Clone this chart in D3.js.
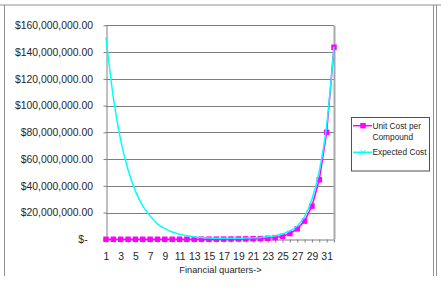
<!DOCTYPE html>
<html>
<head>
<meta charset="utf-8">
<script src="https://cdn.jsdelivr.net/npm/d3@7"></script>
<style>
    body { margin: 0; background: #fff; }
    svg { display: block; font-family: "Liberation Sans", Arial, sans-serif; }
</style>
</head>
<body>
<svg width="441" height="288"></svg>
<script>
// quarters 1..32
const quarters = d3.range(1, 33);

// values in millions of $
const unitCost = [0.01, 0.01, 0.01, 0.01, 0.01, 0.01, 0.01, 0.02, 0.02, 0.03, 0.04, 0.05,
                  0.06, 0.08, 0.1, 0.12, 0.15, 0.2, 0.25, 0.3, 0.4, 0.55, 0.75, 1.25,
                  2.2, 4.3, 7.8, 13.6, 24.8, 44.5, 80, 143.6];
const expectedCost = [151, 106, 74, 52, 36, 25, 17.5, 11.5, 8, 5.5, 3.8, 2.6,
                      1.8, 1.3, 1.0, 0.8, 0.75, 0.75, 0.8, 0.9, 1.1, 1.4, 1.9, 2.6,
                      3.9, 6.2, 10, 17, 30, 51, 85, 144];

const yTicks = [0, 20e6, 40e6, 60e6, 80e6, 100e6, 120e6, 140e6, 160e6];
const seriesNames = ["Unit Cost per\nCompound", "Expected Cost"];
const xTitle = "Financial quarters->";

const MAGENTA = "#ff00ff";
const CYAN = "#00ffff";
const GRID = "#808080";
const TEXT = "#262626";

const svg = d3.select("svg");

// frame of the sheet cut-out
svg.append("line").attr("x1", 0).attr("x2", 441).attr("y1", 5).attr("y2", 5)
    .attr("stroke", "#c8c8c8").attr("stroke-width", 2);
svg.append("line").attr("x1", 4.5).attr("x2", 4.5).attr("y1", 5).attr("y2", 276)
    .attr("stroke", "#909090");
[433.5, 436.5].forEach(x => {
    svg.append("line").attr("x1", x).attr("x2", x).attr("y1", 5).attr("y2", 276)
        .attr("stroke", "#909090");
});

const plot = {left: 106, right: 334, top: 25.3, bottom: 239.3};

const x = d3.scalePoint()
    .domain(quarters)
    .range([plot.left, plot.right]);

const y = d3.scaleLinear()
    .domain([0, 160e6])
    .range([plot.bottom, plot.top]);

// gridlines
svg.append("g")
    .selectAll("line")
    .data(yTicks.filter(d => d > 0))
    .join("line")
        .attr("x1", plot.left)
        .attr("x2", plot.right)
        .attr("y1", d => Math.round(y(d)) + 0.5)
        .attr("y2", d => Math.round(y(d)) + 0.5)
        .attr("stroke", GRID)
        .attr("stroke-width", 1);

// plot area right border
svg.append("line")
    .attr("x1", plot.right + 0.5).attr("x2", plot.right + 0.5)
    .attr("y1", Math.round(y(160e6)) + 0.5).attr("y2", plot.bottom)
    .attr("stroke", "#a8a8a8").attr("stroke-width", 2);

const fmt = d3.format("$,.2f");

const yAxis = svg.append("g")
    .attr("transform", `translate(${plot.left + 0.5},0)`)
    .call(d3.axisLeft(y)
        .tickValues(yTicks)
        .tickSize(3)
        .tickSizeOuter(0)
        .tickPadding(10.5)
        .tickFormat(d => d === 0 ? "$-" : fmt(d)));
yAxis.selectAll("text")
    .attr("font-size", "10.4px")
    .attr("font-family", "Liberation Sans, Arial, sans-serif")
    .attr("fill", TEXT)
    .filter(d => d === 0).attr("dx", -5.4);

const xAxis = svg.append("g")
    .attr("transform", `translate(0,${Math.round(plot.bottom) + 0.5})`)
    .call(d3.axisBottom(x)
        .tickSize(3)
        .tickSizeOuter(0)
        .tickPadding(10)
        .tickFormat(d => d % 2 === 1 ? d : ""));
xAxis.selectAll("text")
    .attr("font-size", "10.4px")
    .attr("font-family", "Liberation Sans, Arial, sans-serif")
    .attr("fill", TEXT);

[yAxis, xAxis].forEach(a => {
    a.selectAll("path.domain").attr("stroke", GRID);
    a.selectAll(".tick line").attr("stroke", GRID);
});

svg.append("text")
    .attr("x", 220.5)
    .attr("y", 272.5)
    .attr("text-anchor", "middle")
    .attr("font-size", "9.3px")
    .attr("fill", TEXT)
    .text(xTitle);

// series
const line = d3.line()
    .x((d, i) => x(quarters[i]))
    .y(d => y(d * 1e6));

svg.append("path")
    .datum(unitCost)
    .attr("d", line)
    .attr("fill", "none")
    .attr("stroke", MAGENTA)
    .attr("stroke-width", 1.5);

svg.append("g")
    .selectAll("rect")
    .data(unitCost)
    .join("rect")
        .attr("x", (d, i) => x(quarters[i]) - 2.75)
        .attr("y", d => y(d * 1e6) - 2.75)
        .attr("width", 5.5)
        .attr("height", 5.5)
        .attr("fill", MAGENTA);

svg.append("path")
    .datum(expectedCost)
    .attr("d", d3.line().curve(d3.curveMonotoneX)
        .x((d, i) => x(quarters[i]))
        .y(d => y(d * 1e6)))
    .attr("fill", "none")
    .attr("stroke", CYAN)
    .attr("stroke-width", 1.5);

// legend
const legend = svg.append("g");
legend.append("rect")
    .attr("x", 351.5).attr("y", 117.5)
    .attr("width", 78).attr("height", 53.5)
    .attr("fill", "#fff")
    .attr("stroke", "#505050");

const lx = 353, lw = 19, tx = 372.5;
const rows = [
    {color: MAGENTA, y: 125.7, lines: seriesNames[0].split("\n"), marker: "square"},
    {color: CYAN, y: 152.3, lines: [seriesNames[1]], marker: "cross"}
];
rows.forEach(r => {
    legend.append("line")
        .attr("x1", lx).attr("x2", lx + lw)
        .attr("y1", r.y).attr("y2", r.y)
        .attr("stroke", r.color).attr("stroke-width", 1.5);
    if (r.marker == "square") {
        legend.append("rect")
            .attr("x", 363 - 2.75).attr("y", r.y - 2.75)
            .attr("width", 5.5).attr("height", 5.5)
            .attr("fill", r.color);
    } else {
        legend.append("path")
            .attr("d", `M${360.5},${r.y - 2}L${365.5},${r.y + 2}M${360.5},${r.y + 2}L${365.5},${r.y - 2}`)
            .attr("stroke", r.color).attr("stroke-width", 1);
    }
    r.lines.forEach((t, i) => {
        legend.append("text")
            .attr("x", tx)
            .attr("y", r.y + 3.1 + i * 11)
            .attr("font-size", "8.3px")
            .attr("fill", TEXT)
            .text(t);
    });
});
</script>
</body>
</html>
